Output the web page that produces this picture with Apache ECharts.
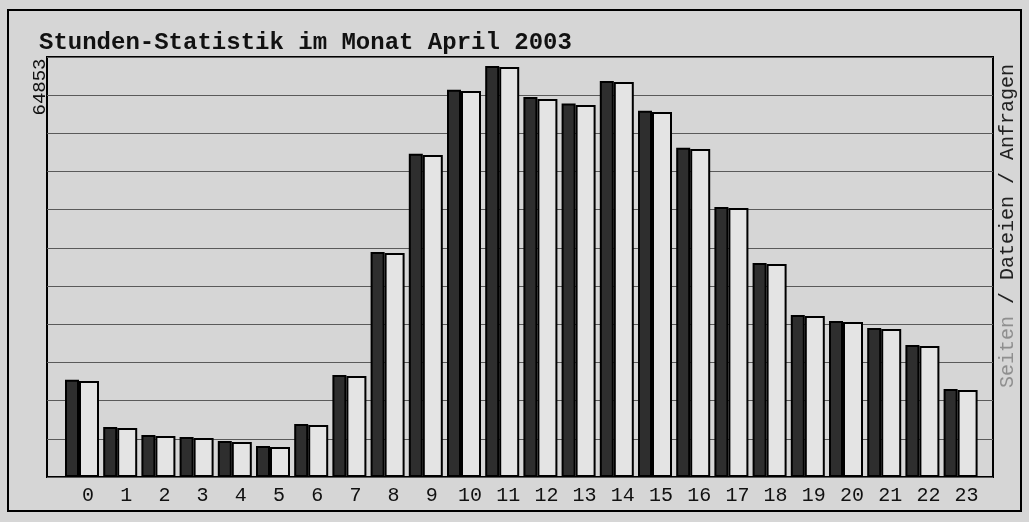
<!DOCTYPE html>
<html>
<head>
<meta charset="utf-8">
<script src="https://cdn.jsdelivr.net/npm/echarts@6/dist/echarts.min.js"></script>
<style>
  html, body { margin: 0; padding: 0; background: #d6d6d6; }
  #chart { width: 1029px; height: 522px; }
</style>
</head>
<body>
<div id="chart"></div>
<script>
// Stunden 0..23
var stunden = ['0','1','2','3','4','5','6','7','8','9','10','11','12','13','14','15','16','17','18','19','20','21','22','23'];
// Anfragen (dunkler Balken)
var anfragen = [15350, 7900, 6620, 6300, 5680, 4880, 8380, 16100, 35500, 51000, 61100, 64853,
                59950, 58950, 62500, 57780, 51950, 42620, 33780, 25580, 24620, 23520, 20830, 13880];
// Dateien (heller Balken)
var dateien = [15149, 7732, 6470, 6154, 5523, 4734, 8206, 15938, 35347, 50812, 60911, 64698,
               59648, 58702, 62331, 57597, 51758, 42448, 33611, 25406, 24459, 23354, 20672, 13729];
var titel = 'Stunden-Statistik im Monat April 2003';

var maxWert = Math.max.apply(null, anfragen);
var achseMax = 66275;       // 11 Rasterfelder
var rasterSchritt = 6025;

var chart = echarts.init(document.getElementById('chart'));

var option = {
    backgroundColor: '#d6d6d6',
    animation: false,
    title: {
        text: titel,
        left: 34,
        top: 26,
        textStyle: {
            fontFamily: 'Liberation Mono',
            fontWeight: 'bold',
            fontSize: 24,
            color: '#111'
        }
    },
    grid: [
        // Rahmen + Rasterlinien
        { left: 47, top: 57, right: 36, bottom: 45, show: true, borderColor: '#000', borderWidth: 2, backgroundColor: 'transparent' },
        // Balken
        { left: 62.9, top: 57, width: 916.8, bottom: 45 }
    ],
    xAxis: [
        { gridIndex: 0, type: 'value', show: false },
        {
            gridIndex: 1,
            type: 'category',
            data: stunden,
            axisLine: { show: false },
            axisTick: { show: false },
            axisLabel: {
                margin: 9,
                padding: [0, 0, 0, 12],
                fontFamily: 'Liberation Mono',
                fontSize: 20,
                color: '#111',
                interval: 0
            }
        }
    ],
    yAxis: [
        {
            gridIndex: 0,
            type: 'value',
            min: 0,
            max: achseMax,
            interval: rasterSchritt,
            axisLine: { show: false },
            axisTick: { show: false },
            axisLabel: { show: false },
            splitLine: { lineStyle: { color: '#5a5a5a', width: 1 } }
        },
        {
            gridIndex: 1,
            type: 'value',
            min: 0,
            max: achseMax,
            show: false,
            splitLine: { show: false }
        }
    ],
    series: [
        {
            name: 'Anfragen',
            type: 'bar',
            xAxisIndex: 1,
            yAxisIndex: 1,
            barWidth: 14,
            barGap: '0%',
            data: anfragen,
            itemStyle: { color: '#2e2e2e', borderColor: '#000', borderWidth: 2 }
        },
        {
            name: 'Dateien',
            type: 'bar',
            xAxisIndex: 1,
            yAxisIndex: 1,
            barWidth: 20,
            barGap: '0%',
            data: dateien,
            itemStyle: { color: '#e4e4e4', borderColor: '#000', borderWidth: 2 }
        }
    ],
    graphic: [
        {
            type: 'rect',
            shape: { x: 8, y: 10, width: 1013, height: 501 },
            style: { fill: 'none', stroke: '#000', lineWidth: 2 },
            silent: true
        },
        {
            type: 'text',
            x: 40,
            y: 87,
            rotation: Math.PI / 2,
            style: {
                text: String(maxWert),
                fontFamily: 'Liberation Mono',
                fontSize: 19,
                fill: '#111',
                align: 'center',
                verticalAlign: 'middle'
            }
        },
        {
            type: 'text',
            x: 1008,
            y: 226,
            rotation: Math.PI / 2,
            style: {
                text: '{s|Seiten} / Dateien / Anfragen',
                fontFamily: 'Liberation Mono',
                fontSize: 20,
                fill: '#222',
                align: 'center',
                verticalAlign: 'middle',
                rich: {
                    s: { fontFamily: 'Liberation Mono', fontSize: 20, fill: '#8f8f8f', color: '#8f8f8f' }
                }
            }
        }
    ]
};

chart.setOption(option);
</script>
</body>
</html>
